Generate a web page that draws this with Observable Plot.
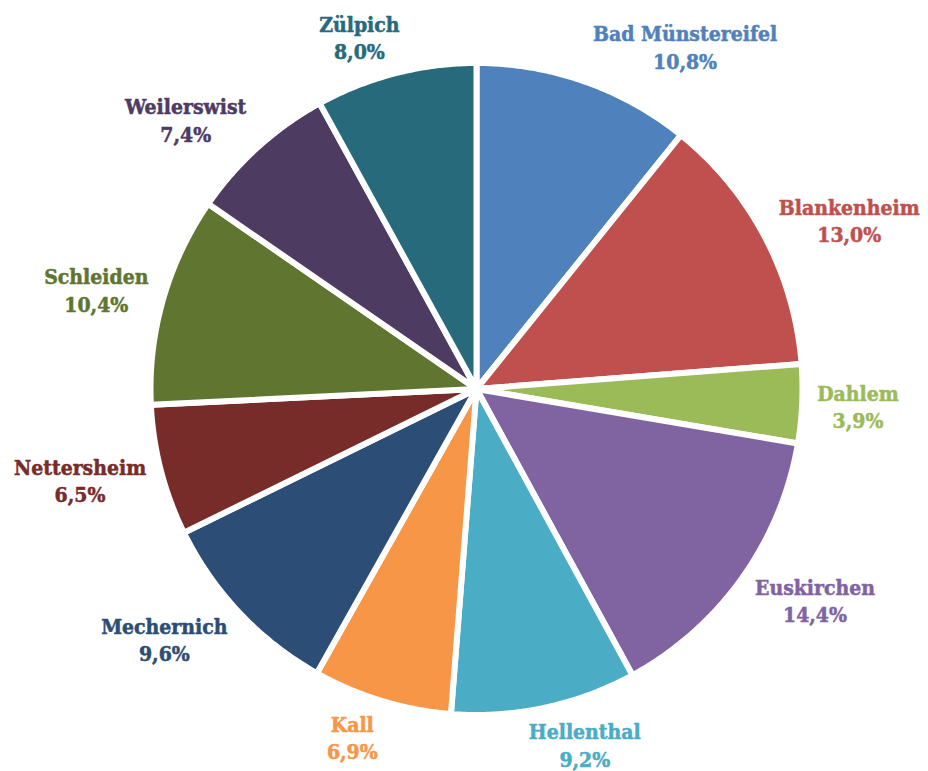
<!DOCTYPE html>
<html>
<head>
<meta charset="utf-8">
<script src="https://cdn.jsdelivr.net/npm/d3@7"></script>
<script src="https://cdn.jsdelivr.net/npm/@observablehq/plot@0.6"></script>
<style>
  html, body { margin: 0; padding: 0; background: #fff; }
  #chart svg { display: block; }
</style>
</head>
<body>
<div id="chart"></div>
<script>
// ---- data ----
const names = ["Bad Münstereifel", "Blankenheim", "Dahlem", "Euskirchen", "Hellenthal", "Kall",
               "Mechernich", "Nettersheim", "Schleiden", "Weilerswist", "Zülpich"];
const shares = [10.8, 13.0, 3.9, 14.4, 9.2, 6.9, 9.6, 6.5, 10.4, 7.4, 8.0];
const colors = ["#4F81BD", "#C0504D", "#9BBB59", "#8064A2", "#4BACC6", "#F79646",
                "#2C4D75", "#772C2A", "#5F7530", "#4D3B62", "#276A7C"];

// ---- layout ----
const W = 928, H = 771;
const CX = 476, CY = 388.5, RPX = 326;      // pie centre and radius in pixels
const FONT_SIZE = 21, LINE_H = 1.3;
const FONT_FAMILY = "'DejaVu Serif Condensed', 'DejaVu Serif', serif";
const LABEL_GAP = 13;                         // px outside the visible rim
const LABEL_PAD_X = 5;                        // extra horizontal padding

const pie = d3.pie().sort(null).value(d => d)(shares);

// slice polygons in unit-circle coordinates (angle 0 = 12 o'clock, clockwise)
const polys = [];
pie.forEach((p, i) => {
  const n = Math.max(2, Math.ceil((p.endAngle - p.startAngle) / (Math.PI / 360)));
  polys.push({name: names[i], color: colors[i], x: 0, y: 0});
  for (let k = 0; k <= n; k++) {
    const a = p.startAngle + (p.endAngle - p.startAngle) * k / n;
    polys.push({name: names[i], color: colors[i], x: Math.sin(a), y: Math.cos(a)});
  }
  polys.push({name: names[i], color: colors[i], x: 0, y: 0});
});

// label positions (outside end, box touching the rim)
const ctx = document.createElement("canvas").getContext("2d");
ctx.font = `bold ${FONT_SIZE}px ${FONT_FAMILY}`;
const labels = pie.map((p, i) => {
  const pct = shares[i].toFixed(1).replace(".", ",") + "%";
  const w = Math.max(ctx.measureText(names[i]).width, ctx.measureText(pct).width);
  const h = 2 * FONT_SIZE * LINE_H;
  const a = (p.startAngle + p.endAngle) / 2;
  const s = Math.sin(a), c = Math.cos(a);
  const r = (RPX - 3 + LABEL_GAP) / RPX;
  const fx = Math.max(-1, Math.min(1, 3 * s));
  return {
    text: names[i] + "\n" + pct,
    color: colors[i],
    x: r * s + (w / 2 + LABEL_PAD_X) * fx / RPX,
    y: r * c + (h / 2) * c / RPX
  };
});

const chart = Plot.plot({
  width: W,
  height: H,
  margin: 0,
  x: {domain: [-CX / RPX, (W - CX) / RPX], axis: null},
  y: {domain: [-(H - CY) / RPX, CY / RPX], axis: null},
  color: {type: "identity"},
  style: {background: "#fff"},
  marks: [
    Plot.line(polys, {
      x: "x", y: "y", z: "name", fill: "color",
      stroke: "#fff", strokeWidth: 6, strokeLinejoin: "miter", strokeMiterlimit: 2,
      curve: "linear"
    }),
    Plot.text(labels, {
      x: "x", y: "y", text: "text", fill: "color", stroke: "color", strokeWidth: 0.5,
      fontSize: FONT_SIZE, fontWeight: "bold", fontFamily: FONT_FAMILY,
      lineHeight: LINE_H, textAnchor: "middle", lineAnchor: "middle"
    })
  ]
});
document.getElementById("chart").appendChild(chart);
</script>
</body>
</html>
